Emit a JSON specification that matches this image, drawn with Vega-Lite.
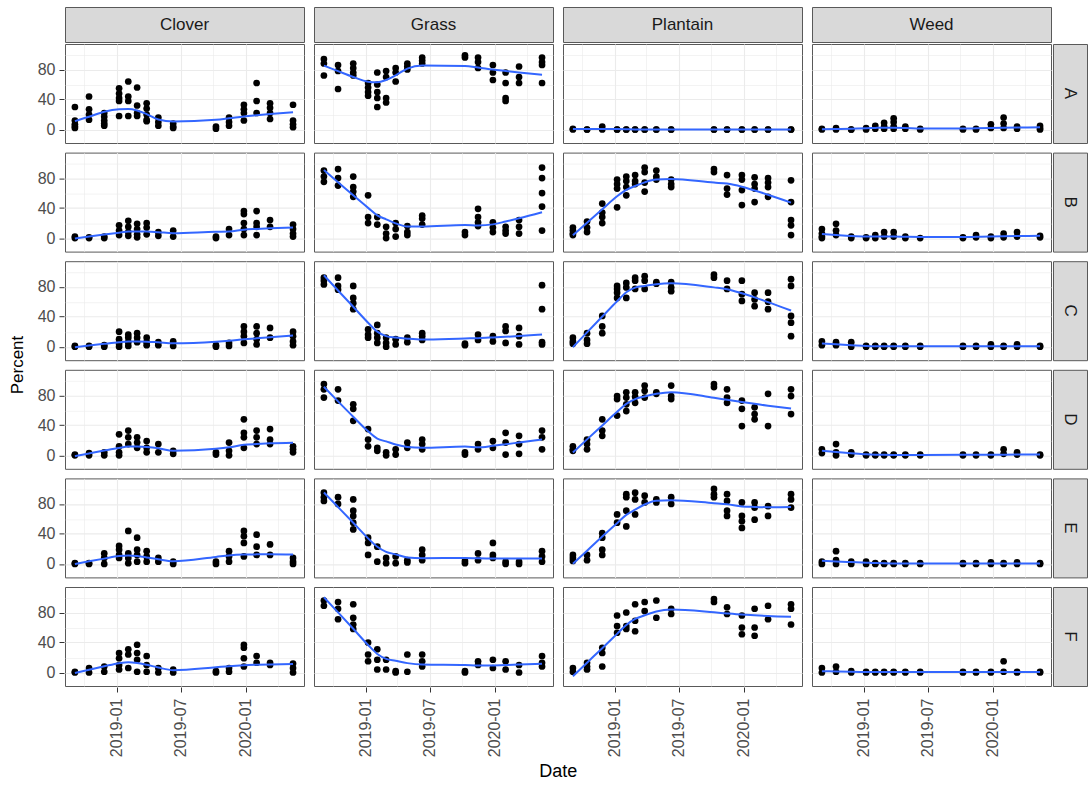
{
"$schema":"https://vega.github.io/schema/vega-lite/v6.json",
"background":"white",
"padding":{"left":8,"top":6,"right":0,"bottom":3},
"config":{"font":"Liberation Sans","view":{"stroke":"#595959"},"header":{"titleFont":"Liberation Sans"}},
"title":{"text":"Date","orient":"bottom","fontSize":18,"fontWeight":"normal","color":"black","anchor":"middle","font":"Liberation Sans","offset":6,"dx":10},
"spacing":0,
"resolve":{"scale":{"x":"independent","y":"independent"}},
"vconcat":[
{
"data":{"values":[{"sp":"Clover","k":"a"},{"sp":"Grass","k":"a"},{"sp":"Plantain","k":"a"},{"sp":"Weed","k":"a"}]},
"facet":{
"row":{"field":"k","type":"nominal","title":"P","header":{"labels":false,"titleColor":"transparent","titleFontSize":17,"titleFontWeight":"normal","titlePadding":0,"labelPadding":0}},
"column":{"field":"sp","type":"nominal","title":null,"header":{"labels":false}}
},
"spacing":{"column":8},
"spec":{
"width":239,"height":35,
"view":{"fill":"#d9d9d9","stroke":"#595959"},
"mark":{"type":"text","fontSize":17,"color":"#1a1a1a","font":"Liberation Sans"},
"encoding":{
"text":{"field":"sp"},
"y":{"datum":48,"type":"quantitative","scale":{"domain":[-18,114],"nice":false,"zero":false},"axis":{"values":[40],"title":null,"labelColor":"transparent","tickColor":"transparent","domain":false,"grid":false,"labelFontSize":16,"labelPadding":4,"tickSize":5}}
}
}
},
{
"hconcat":[
{
"data":{"format":{"parse":{"d":"date"}},"values":[
{"sp":"Clover","pl":"A","d":"2018-09-05","v":[30,12,7,4,2]},
{"sp":"Clover","pl":"A","d":"2018-10-15","v":[44,27,20,13]},
{"sp":"Clover","pl":"A","d":"2018-11-27","v":[22,17,12,8,5]},
{"sp":"Clover","pl":"A","d":"2019-01-08","v":[55,48,42,38,18]},
{"sp":"Clover","pl":"A","d":"2019-02-03","v":[64,44,38,18]},
{"sp":"Clover","pl":"A","d":"2019-02-28","v":[56,32,22,18]},
{"sp":"Clover","pl":"A","d":"2019-03-27","v":[35,28,20,13,11]},
{"sp":"Clover","pl":"A","d":"2019-04-29","v":[16,10,5]},
{"sp":"Clover","pl":"A","d":"2019-06-10","v":[8,4,2]},
{"sp":"Clover","pl":"A","d":"2019-10-09","v":[4,1]},
{"sp":"Clover","pl":"A","d":"2019-11-15","v":[16,10,5]},
{"sp":"Clover","pl":"A","d":"2019-12-27","v":[33,27,22,12]},
{"sp":"Clover","pl":"A","d":"2020-02-01","v":[62,38,22]},
{"sp":"Clover","pl":"A","d":"2020-03-10","v":[35,29,22,14]},
{"sp":"Clover","pl":"A","d":"2020-05-14","v":[33,12,7,3]},
{"sp":"Grass","pl":"A","d":"2018-09-05","v":[94,88,72]},
{"sp":"Grass","pl":"A","d":"2018-10-15","v":[86,78,54]},
{"sp":"Grass","pl":"A","d":"2018-11-27","v":[88,82,76,72]},
{"sp":"Grass","pl":"A","d":"2019-01-08","v":[62,56,50,45]},
{"sp":"Grass","pl":"A","d":"2019-02-03","v":[76,60,50,42,30]},
{"sp":"Grass","pl":"A","d":"2019-02-28","v":[78,70,42,36]},
{"sp":"Grass","pl":"A","d":"2019-03-27","v":[82,76,64]},
{"sp":"Grass","pl":"A","d":"2019-04-29","v":[88,84,80]},
{"sp":"Grass","pl":"A","d":"2019-06-10","v":[96,92,88]},
{"sp":"Grass","pl":"A","d":"2019-10-09","v":[99,96]},
{"sp":"Grass","pl":"A","d":"2019-11-15","v":[96,90,82]},
{"sp":"Grass","pl":"A","d":"2019-12-27","v":[86,76,66]},
{"sp":"Grass","pl":"A","d":"2020-02-01","v":[76,62,42,38]},
{"sp":"Grass","pl":"A","d":"2020-03-10","v":[84,70,62]},
{"sp":"Grass","pl":"A","d":"2020-05-14","v":[96,90,86,62]},
{"sp":"Plantain","pl":"A","d":"2018-09-05","v":[1,0]},
{"sp":"Plantain","pl":"A","d":"2018-10-15","v":[0,0]},
{"sp":"Plantain","pl":"A","d":"2018-11-27","v":[4,0]},
{"sp":"Plantain","pl":"A","d":"2019-01-08","v":[0,0]},
{"sp":"Plantain","pl":"A","d":"2019-02-03","v":[0,0]},
{"sp":"Plantain","pl":"A","d":"2019-02-28","v":[0,0]},
{"sp":"Plantain","pl":"A","d":"2019-03-27","v":[0,0]},
{"sp":"Plantain","pl":"A","d":"2019-04-29","v":[0,0]},
{"sp":"Plantain","pl":"A","d":"2019-06-10","v":[0,0]},
{"sp":"Plantain","pl":"A","d":"2019-10-09","v":[0,0]},
{"sp":"Plantain","pl":"A","d":"2019-11-15","v":[0,0]},
{"sp":"Plantain","pl":"A","d":"2019-12-27","v":[0,0]},
{"sp":"Plantain","pl":"A","d":"2020-02-01","v":[0,0]},
{"sp":"Plantain","pl":"A","d":"2020-03-10","v":[0,0]},
{"sp":"Plantain","pl":"A","d":"2020-05-14","v":[0,0]},
{"sp":"Weed","pl":"A","d":"2018-09-05","v":[1,0]},
{"sp":"Weed","pl":"A","d":"2018-10-15","v":[2,0]},
{"sp":"Weed","pl":"A","d":"2018-11-27","v":[0,0]},
{"sp":"Weed","pl":"A","d":"2019-01-08","v":[2,0]},
{"sp":"Weed","pl":"A","d":"2019-02-03","v":[5,1]},
{"sp":"Weed","pl":"A","d":"2019-02-28","v":[9,4,1]},
{"sp":"Weed","pl":"A","d":"2019-03-27","v":[15,10,4,1]},
{"sp":"Weed","pl":"A","d":"2019-04-29","v":[4,1]},
{"sp":"Weed","pl":"A","d":"2019-06-10","v":[1,0]},
{"sp":"Weed","pl":"A","d":"2019-10-09","v":[1,0]},
{"sp":"Weed","pl":"A","d":"2019-11-15","v":[1,0]},
{"sp":"Weed","pl":"A","d":"2019-12-27","v":[7,2]},
{"sp":"Weed","pl":"A","d":"2020-02-01","v":[16,8,2]},
{"sp":"Weed","pl":"A","d":"2020-03-10","v":[4,1]},
{"sp":"Weed","pl":"A","d":"2020-05-14","v":[5,2,0]},
{"sp":"Clover","pl":"B","d":"2018-09-05","v":[2,0]},
{"sp":"Clover","pl":"B","d":"2018-10-15","v":[1,0]},
{"sp":"Clover","pl":"B","d":"2018-11-27","v":[2,0]},
{"sp":"Clover","pl":"B","d":"2019-01-08","v":[17,10,4]},
{"sp":"Clover","pl":"B","d":"2019-02-03","v":[23,15,8,3]},
{"sp":"Clover","pl":"B","d":"2019-02-28","v":[19,12,5,1]},
{"sp":"Clover","pl":"B","d":"2019-03-27","v":[20,14,5]},
{"sp":"Clover","pl":"B","d":"2019-04-29","v":[8,3]},
{"sp":"Clover","pl":"B","d":"2019-06-10","v":[10,2]},
{"sp":"Clover","pl":"B","d":"2019-10-09","v":[2,0]},
{"sp":"Clover","pl":"B","d":"2019-11-15","v":[12,4]},
{"sp":"Clover","pl":"B","d":"2019-12-27","v":[36,32,20,12,4]},
{"sp":"Clover","pl":"B","d":"2020-02-01","v":[36,20,15,4]},
{"sp":"Clover","pl":"B","d":"2020-03-10","v":[24,15]},
{"sp":"Clover","pl":"B","d":"2020-05-14","v":[18,12,6,2]},
{"sp":"Grass","pl":"B","d":"2018-09-05","v":[90,82,75]},
{"sp":"Grass","pl":"B","d":"2018-10-15","v":[92,80,70]},
{"sp":"Grass","pl":"B","d":"2018-11-27","v":[82,68,62,55]},
{"sp":"Grass","pl":"B","d":"2019-01-08","v":[57,28,20]},
{"sp":"Grass","pl":"B","d":"2019-02-03","v":[28,18]},
{"sp":"Grass","pl":"B","d":"2019-02-28","v":[15,6,0]},
{"sp":"Grass","pl":"B","d":"2019-03-27","v":[20,12,2]},
{"sp":"Grass","pl":"B","d":"2019-04-29","v":[16,8,4]},
{"sp":"Grass","pl":"B","d":"2019-06-10","v":[30,26,18]},
{"sp":"Grass","pl":"B","d":"2019-10-09","v":[8,4]},
{"sp":"Grass","pl":"B","d":"2019-11-15","v":[39,28,21,16]},
{"sp":"Grass","pl":"B","d":"2019-12-27","v":[21,14,8]},
{"sp":"Grass","pl":"B","d":"2020-02-01","v":[15,10,6]},
{"sp":"Grass","pl":"B","d":"2020-03-10","v":[24,15,6]},
{"sp":"Grass","pl":"B","d":"2020-05-14","v":[94,80,60,42,10]},
{"sp":"Plantain","pl":"B","d":"2018-09-05","v":[14,10,6,4]},
{"sp":"Plantain","pl":"B","d":"2018-10-15","v":[22,14,8]},
{"sp":"Plantain","pl":"B","d":"2018-11-27","v":[46,34,28,20]},
{"sp":"Plantain","pl":"B","d":"2019-01-08","v":[78,72,66,41]},
{"sp":"Plantain","pl":"B","d":"2019-02-03","v":[82,76,68,57]},
{"sp":"Plantain","pl":"B","d":"2019-02-28","v":[84,76,72]},
{"sp":"Plantain","pl":"B","d":"2019-03-27","v":[94,88,74,62]},
{"sp":"Plantain","pl":"B","d":"2019-04-29","v":[90,82,78]},
{"sp":"Plantain","pl":"B","d":"2019-06-10","v":[78,72,68]},
{"sp":"Plantain","pl":"B","d":"2019-10-09","v":[92,88]},
{"sp":"Plantain","pl":"B","d":"2019-11-15","v":[84,66,58]},
{"sp":"Plantain","pl":"B","d":"2019-12-27","v":[84,78,64,44]},
{"sp":"Plantain","pl":"B","d":"2020-02-01","v":[81,72,66,48]},
{"sp":"Plantain","pl":"B","d":"2020-03-10","v":[80,74,68,55]},
{"sp":"Plantain","pl":"B","d":"2020-05-14","v":[77,48,24,17,4]},
{"sp":"Weed","pl":"B","d":"2018-09-05","v":[12,6,2,0]},
{"sp":"Weed","pl":"B","d":"2018-10-15","v":[19,10,4]},
{"sp":"Weed","pl":"B","d":"2018-11-27","v":[2,0]},
{"sp":"Weed","pl":"B","d":"2019-01-08","v":[1,0]},
{"sp":"Weed","pl":"B","d":"2019-02-03","v":[4,0]},
{"sp":"Weed","pl":"B","d":"2019-02-28","v":[8,2]},
{"sp":"Weed","pl":"B","d":"2019-03-27","v":[8,2]},
{"sp":"Weed","pl":"B","d":"2019-04-29","v":[2,0]},
{"sp":"Weed","pl":"B","d":"2019-06-10","v":[0]},
{"sp":"Weed","pl":"B","d":"2019-10-09","v":[1,0]},
{"sp":"Weed","pl":"B","d":"2019-11-15","v":[4,1]},
{"sp":"Weed","pl":"B","d":"2019-12-27","v":[2,0]},
{"sp":"Weed","pl":"B","d":"2020-02-01","v":[6,1]},
{"sp":"Weed","pl":"B","d":"2020-03-10","v":[8,2]},
{"sp":"Weed","pl":"B","d":"2020-05-14","v":[3,1]},
{"sp":"Clover","pl":"C","d":"2018-09-05","v":[1,0]},
{"sp":"Clover","pl":"C","d":"2018-10-15","v":[1,0]},
{"sp":"Clover","pl":"C","d":"2018-11-27","v":[2,0]},
{"sp":"Clover","pl":"C","d":"2019-01-08","v":[20,10,4,0]},
{"sp":"Clover","pl":"C","d":"2019-02-03","v":[16,12,6,1]},
{"sp":"Clover","pl":"C","d":"2019-02-28","v":[18,12,6]},
{"sp":"Clover","pl":"C","d":"2019-03-27","v":[12,6,2]},
{"sp":"Clover","pl":"C","d":"2019-04-29","v":[6,2]},
{"sp":"Clover","pl":"C","d":"2019-06-10","v":[7,1]},
{"sp":"Clover","pl":"C","d":"2019-10-09","v":[2,0]},
{"sp":"Clover","pl":"C","d":"2019-11-15","v":[5,1]},
{"sp":"Clover","pl":"C","d":"2019-12-27","v":[27,20,14,5]},
{"sp":"Clover","pl":"C","d":"2020-02-01","v":[27,18,10,3]},
{"sp":"Clover","pl":"C","d":"2020-03-10","v":[25,12]},
{"sp":"Clover","pl":"C","d":"2020-05-14","v":[20,14,7,2]},
{"sp":"Grass","pl":"C","d":"2018-09-05","v":[92,88,83]},
{"sp":"Grass","pl":"C","d":"2018-10-15","v":[92,81,76]},
{"sp":"Grass","pl":"C","d":"2018-11-27","v":[81,65,58,50]},
{"sp":"Grass","pl":"C","d":"2019-01-08","v":[23,16,12]},
{"sp":"Grass","pl":"C","d":"2019-02-03","v":[29,18,12,5]},
{"sp":"Grass","pl":"C","d":"2019-02-28","v":[12,5,0]},
{"sp":"Grass","pl":"C","d":"2019-03-27","v":[10,3]},
{"sp":"Grass","pl":"C","d":"2019-04-29","v":[12,6]},
{"sp":"Grass","pl":"C","d":"2019-06-10","v":[18,14,9]},
{"sp":"Grass","pl":"C","d":"2019-10-09","v":[4,2]},
{"sp":"Grass","pl":"C","d":"2019-11-15","v":[16,9]},
{"sp":"Grass","pl":"C","d":"2019-12-27","v":[14,7]},
{"sp":"Grass","pl":"C","d":"2020-02-01","v":[27,21,5]},
{"sp":"Grass","pl":"C","d":"2020-03-10","v":[25,14,3]},
{"sp":"Grass","pl":"C","d":"2020-05-14","v":[82,50,6,3]},
{"sp":"Plantain","pl":"C","d":"2018-09-05","v":[12,7,4]},
{"sp":"Plantain","pl":"C","d":"2018-10-15","v":[18,9,4]},
{"sp":"Plantain","pl":"C","d":"2018-11-27","v":[41,27,18]},
{"sp":"Plantain","pl":"C","d":"2019-01-08","v":[81,77,72,65]},
{"sp":"Plantain","pl":"C","d":"2019-02-03","v":[85,79,65]},
{"sp":"Plantain","pl":"C","d":"2019-02-28","v":[92,88,77]},
{"sp":"Plantain","pl":"C","d":"2019-03-27","v":[94,88,77]},
{"sp":"Plantain","pl":"C","d":"2019-04-29","v":[86,84]},
{"sp":"Plantain","pl":"C","d":"2019-06-10","v":[86,79,74]},
{"sp":"Plantain","pl":"C","d":"2019-10-09","v":[96,92]},
{"sp":"Plantain","pl":"C","d":"2019-11-15","v":[88,77]},
{"sp":"Plantain","pl":"C","d":"2019-12-27","v":[88,70,61]},
{"sp":"Plantain","pl":"C","d":"2020-02-01","v":[72,63,54]},
{"sp":"Plantain","pl":"C","d":"2020-03-10","v":[72,60,50]},
{"sp":"Plantain","pl":"C","d":"2020-05-14","v":[90,81,41,32,14]},
{"sp":"Weed","pl":"C","d":"2018-09-05","v":[7,2]},
{"sp":"Weed","pl":"C","d":"2018-10-15","v":[6,2]},
{"sp":"Weed","pl":"C","d":"2018-11-27","v":[6,0]},
{"sp":"Weed","pl":"C","d":"2019-01-08","v":[1,0]},
{"sp":"Weed","pl":"C","d":"2019-02-03","v":[1,0]},
{"sp":"Weed","pl":"C","d":"2019-02-28","v":[1,0]},
{"sp":"Weed","pl":"C","d":"2019-03-27","v":[1,0]},
{"sp":"Weed","pl":"C","d":"2019-04-29","v":[1,0]},
{"sp":"Weed","pl":"C","d":"2019-06-10","v":[1,0]},
{"sp":"Weed","pl":"C","d":"2019-10-09","v":[1,0]},
{"sp":"Weed","pl":"C","d":"2019-11-15","v":[1,0]},
{"sp":"Weed","pl":"C","d":"2019-12-27","v":[3,0]},
{"sp":"Weed","pl":"C","d":"2020-02-01","v":[1,0]},
{"sp":"Weed","pl":"C","d":"2020-03-10","v":[3,0]},
{"sp":"Weed","pl":"C","d":"2020-05-14","v":[1,0]},
{"sp":"Clover","pl":"D","d":"2018-09-05","v":[1,0]},
{"sp":"Clover","pl":"D","d":"2018-10-15","v":[3,0]},
{"sp":"Clover","pl":"D","d":"2018-11-27","v":[4,0]},
{"sp":"Clover","pl":"D","d":"2019-01-08","v":[28,12,4,0]},
{"sp":"Clover","pl":"D","d":"2019-02-03","v":[33,24,15]},
{"sp":"Clover","pl":"D","d":"2019-02-28","v":[24,17,10]},
{"sp":"Clover","pl":"D","d":"2019-03-27","v":[19,10,4]},
{"sp":"Clover","pl":"D","d":"2019-04-29","v":[15,4]},
{"sp":"Clover","pl":"D","d":"2019-06-10","v":[6,2]},
{"sp":"Clover","pl":"D","d":"2019-10-09","v":[4,1]},
{"sp":"Clover","pl":"D","d":"2019-11-15","v":[17,6,0]},
{"sp":"Clover","pl":"D","d":"2019-12-27","v":[48,30,24,10]},
{"sp":"Clover","pl":"D","d":"2020-02-01","v":[33,24,15]},
{"sp":"Clover","pl":"D","d":"2020-03-10","v":[35,21,15]},
{"sp":"Clover","pl":"D","d":"2020-05-14","v":[12,8,4]},
{"sp":"Grass","pl":"D","d":"2018-09-05","v":[95,88,77]},
{"sp":"Grass","pl":"D","d":"2018-10-15","v":[88,73]},
{"sp":"Grass","pl":"D","d":"2018-11-27","v":[68,62,46]},
{"sp":"Grass","pl":"D","d":"2019-01-08","v":[35,21,12]},
{"sp":"Grass","pl":"D","d":"2019-02-03","v":[10,6]},
{"sp":"Grass","pl":"D","d":"2019-02-28","v":[4,0]},
{"sp":"Grass","pl":"D","d":"2019-03-27","v":[8,1]},
{"sp":"Grass","pl":"D","d":"2019-04-29","v":[17,10]},
{"sp":"Grass","pl":"D","d":"2019-06-10","v":[21,15,8]},
{"sp":"Grass","pl":"D","d":"2019-10-09","v":[4,1]},
{"sp":"Grass","pl":"D","d":"2019-11-15","v":[15,8]},
{"sp":"Grass","pl":"D","d":"2019-12-27","v":[19,10]},
{"sp":"Grass","pl":"D","d":"2020-02-01","v":[30,17,1]},
{"sp":"Grass","pl":"D","d":"2020-03-10","v":[26,15,2]},
{"sp":"Grass","pl":"D","d":"2020-05-14","v":[33,24,8]},
{"sp":"Plantain","pl":"D","d":"2018-09-05","v":[12,8,6]},
{"sp":"Plantain","pl":"D","d":"2018-10-15","v":[21,15,8]},
{"sp":"Plantain","pl":"D","d":"2018-11-27","v":[48,33,26]},
{"sp":"Plantain","pl":"D","d":"2019-01-08","v":[79,75,53]},
{"sp":"Plantain","pl":"D","d":"2019-02-03","v":[84,77,68,59]},
{"sp":"Plantain","pl":"D","d":"2019-02-28","v":[84,78,70]},
{"sp":"Plantain","pl":"D","d":"2019-03-27","v":[93,86,77]},
{"sp":"Plantain","pl":"D","d":"2019-04-29","v":[84,82]},
{"sp":"Plantain","pl":"D","d":"2019-06-10","v":[93,79,75]},
{"sp":"Plantain","pl":"D","d":"2019-10-09","v":[95,91]},
{"sp":"Plantain","pl":"D","d":"2019-11-15","v":[88,77,70]},
{"sp":"Plantain","pl":"D","d":"2019-12-27","v":[73,62,39]},
{"sp":"Plantain","pl":"D","d":"2020-02-01","v":[64,55,48]},
{"sp":"Plantain","pl":"D","d":"2020-03-10","v":[82,39]},
{"sp":"Plantain","pl":"D","d":"2020-05-14","v":[88,79,55]},
{"sp":"Weed","pl":"D","d":"2018-09-05","v":[8,3]},
{"sp":"Weed","pl":"D","d":"2018-10-15","v":[15,4,0]},
{"sp":"Weed","pl":"D","d":"2018-11-27","v":[4,1]},
{"sp":"Weed","pl":"D","d":"2019-01-08","v":[1,0]},
{"sp":"Weed","pl":"D","d":"2019-02-03","v":[1,0]},
{"sp":"Weed","pl":"D","d":"2019-02-28","v":[1,0]},
{"sp":"Weed","pl":"D","d":"2019-03-27","v":[1,0]},
{"sp":"Weed","pl":"D","d":"2019-04-29","v":[1,0]},
{"sp":"Weed","pl":"D","d":"2019-06-10","v":[1,0]},
{"sp":"Weed","pl":"D","d":"2019-10-09","v":[1,0]},
{"sp":"Weed","pl":"D","d":"2019-11-15","v":[1,0]},
{"sp":"Weed","pl":"D","d":"2019-12-27","v":[1,0]},
{"sp":"Weed","pl":"D","d":"2020-02-01","v":[8,2]},
{"sp":"Weed","pl":"D","d":"2020-03-10","v":[4,1]},
{"sp":"Weed","pl":"D","d":"2020-05-14","v":[1,0]},
{"sp":"Clover","pl":"E","d":"2018-09-05","v":[1,0]},
{"sp":"Clover","pl":"E","d":"2018-10-15","v":[1,0]},
{"sp":"Clover","pl":"E","d":"2018-11-27","v":[14,8,0]},
{"sp":"Clover","pl":"E","d":"2019-01-08","v":[24,19,12,8]},
{"sp":"Clover","pl":"E","d":"2019-02-03","v":[44,14,8,1]},
{"sp":"Clover","pl":"E","d":"2019-02-28","v":[35,19,12,3]},
{"sp":"Clover","pl":"E","d":"2019-03-27","v":[17,10,3]},
{"sp":"Clover","pl":"E","d":"2019-04-29","v":[8,3]},
{"sp":"Clover","pl":"E","d":"2019-06-10","v":[3,0]},
{"sp":"Clover","pl":"E","d":"2019-10-09","v":[3,0]},
{"sp":"Clover","pl":"E","d":"2019-11-15","v":[17,10,3]},
{"sp":"Clover","pl":"E","d":"2019-12-27","v":[44,37,28,10]},
{"sp":"Clover","pl":"E","d":"2020-02-01","v":[39,23,12]},
{"sp":"Clover","pl":"E","d":"2020-03-10","v":[26,12]},
{"sp":"Clover","pl":"E","d":"2020-05-14","v":[8,3,0]},
{"sp":"Grass","pl":"E","d":"2018-09-05","v":[95,89,84]},
{"sp":"Grass","pl":"E","d":"2018-10-15","v":[89,80]},
{"sp":"Grass","pl":"E","d":"2018-11-27","v":[86,71,64,55,46]},
{"sp":"Grass","pl":"E","d":"2019-01-08","v":[35,28,12]},
{"sp":"Grass","pl":"E","d":"2019-02-03","v":[23,3]},
{"sp":"Grass","pl":"E","d":"2019-02-28","v":[8,1]},
{"sp":"Grass","pl":"E","d":"2019-03-27","v":[10,1]},
{"sp":"Grass","pl":"E","d":"2019-04-29","v":[5,2]},
{"sp":"Grass","pl":"E","d":"2019-06-10","v":[19,12,5]},
{"sp":"Grass","pl":"E","d":"2019-10-09","v":[4,1]},
{"sp":"Grass","pl":"E","d":"2019-11-15","v":[14,5]},
{"sp":"Grass","pl":"E","d":"2019-12-27","v":[28,12,8]},
{"sp":"Grass","pl":"E","d":"2020-02-01","v":[3,0]},
{"sp":"Grass","pl":"E","d":"2020-03-10","v":[3,0]},
{"sp":"Grass","pl":"E","d":"2020-05-14","v":[17,10,3]},
{"sp":"Plantain","pl":"E","d":"2018-09-05","v":[12,8,4]},
{"sp":"Plantain","pl":"E","d":"2018-10-15","v":[12,5]},
{"sp":"Plantain","pl":"E","d":"2018-11-27","v":[41,35,19,12]},
{"sp":"Plantain","pl":"E","d":"2019-01-08","v":[66,55]},
{"sp":"Plantain","pl":"E","d":"2019-02-03","v":[93,89,71,50]},
{"sp":"Plantain","pl":"E","d":"2019-02-28","v":[95,86,66]},
{"sp":"Plantain","pl":"E","d":"2019-03-27","v":[91,82]},
{"sp":"Plantain","pl":"E","d":"2019-04-29","v":[86,82]},
{"sp":"Plantain","pl":"E","d":"2019-06-10","v":[89,80]},
{"sp":"Plantain","pl":"E","d":"2019-10-09","v":[100,93,89]},
{"sp":"Plantain","pl":"E","d":"2019-11-15","v":[93,84,71,64]},
{"sp":"Plantain","pl":"E","d":"2019-12-27","v":[82,64,57,48]},
{"sp":"Plantain","pl":"E","d":"2020-02-01","v":[82,75,59]},
{"sp":"Plantain","pl":"E","d":"2020-03-10","v":[77,64]},
{"sp":"Plantain","pl":"E","d":"2020-05-14","v":[93,86,75]},
{"sp":"Weed","pl":"E","d":"2018-09-05","v":[3,0]},
{"sp":"Weed","pl":"E","d":"2018-10-15","v":[17,5,0]},
{"sp":"Weed","pl":"E","d":"2018-11-27","v":[3,0]},
{"sp":"Weed","pl":"E","d":"2019-01-08","v":[3,0]},
{"sp":"Weed","pl":"E","d":"2019-02-03","v":[1,0]},
{"sp":"Weed","pl":"E","d":"2019-02-28","v":[1,0]},
{"sp":"Weed","pl":"E","d":"2019-03-27","v":[1,0]},
{"sp":"Weed","pl":"E","d":"2019-04-29","v":[1,0]},
{"sp":"Weed","pl":"E","d":"2019-06-10","v":[1,0]},
{"sp":"Weed","pl":"E","d":"2019-10-09","v":[1,0]},
{"sp":"Weed","pl":"E","d":"2019-11-15","v":[1,0]},
{"sp":"Weed","pl":"E","d":"2019-12-27","v":[2,0]},
{"sp":"Weed","pl":"E","d":"2020-02-01","v":[1,0]},
{"sp":"Weed","pl":"E","d":"2020-03-10","v":[2,0]},
{"sp":"Weed","pl":"E","d":"2020-05-14","v":[1,0]},
{"sp":"Clover","pl":"F","d":"2018-09-05","v":[1,0]},
{"sp":"Clover","pl":"F","d":"2018-10-15","v":[6,0]},
{"sp":"Clover","pl":"F","d":"2018-11-27","v":[8,1]},
{"sp":"Clover","pl":"F","d":"2019-01-08","v":[26,19,10,4]},
{"sp":"Clover","pl":"F","d":"2019-02-03","v":[31,24,6]},
{"sp":"Clover","pl":"F","d":"2019-02-28","v":[37,26,17,1]},
{"sp":"Clover","pl":"F","d":"2019-03-27","v":[22,10,1]},
{"sp":"Clover","pl":"F","d":"2019-04-29","v":[6,0]},
{"sp":"Clover","pl":"F","d":"2019-06-10","v":[4,0]},
{"sp":"Clover","pl":"F","d":"2019-10-09","v":[2,0]},
{"sp":"Clover","pl":"F","d":"2019-11-15","v":[6,1]},
{"sp":"Clover","pl":"F","d":"2019-12-27","v":[37,33,19,8]},
{"sp":"Clover","pl":"F","d":"2020-02-01","v":[22,13]},
{"sp":"Clover","pl":"F","d":"2020-03-10","v":[13,10]},
{"sp":"Clover","pl":"F","d":"2020-05-14","v":[12,6,0]},
{"sp":"Grass","pl":"F","d":"2018-09-05","v":[96,89]},
{"sp":"Grass","pl":"F","d":"2018-10-15","v":[94,85,71]},
{"sp":"Grass","pl":"F","d":"2018-11-27","v":[91,73,64,58]},
{"sp":"Grass","pl":"F","d":"2019-01-08","v":[40,24,15]},
{"sp":"Grass","pl":"F","d":"2019-02-03","v":[31,17,4]},
{"sp":"Grass","pl":"F","d":"2019-02-28","v":[17,4]},
{"sp":"Grass","pl":"F","d":"2019-03-27","v":[2,0]},
{"sp":"Grass","pl":"F","d":"2019-04-29","v":[24,1]},
{"sp":"Grass","pl":"F","d":"2019-06-10","v":[24,15,8]},
{"sp":"Grass","pl":"F","d":"2019-10-09","v":[2,0]},
{"sp":"Grass","pl":"F","d":"2019-11-15","v":[15,10]},
{"sp":"Grass","pl":"F","d":"2019-12-27","v":[17,6]},
{"sp":"Grass","pl":"F","d":"2020-02-01","v":[15,4]},
{"sp":"Grass","pl":"F","d":"2020-03-10","v":[10,0]},
{"sp":"Grass","pl":"F","d":"2020-05-14","v":[22,13,8]},
{"sp":"Plantain","pl":"F","d":"2018-09-05","v":[6,1]},
{"sp":"Plantain","pl":"F","d":"2018-10-15","v":[13,8,4]},
{"sp":"Plantain","pl":"F","d":"2018-11-27","v":[33,26,8]},
{"sp":"Plantain","pl":"F","d":"2019-01-08","v":[76,62,53]},
{"sp":"Plantain","pl":"F","d":"2019-02-03","v":[80,62,58]},
{"sp":"Plantain","pl":"F","d":"2019-02-28","v":[91,69,55]},
{"sp":"Plantain","pl":"F","d":"2019-03-27","v":[94,82]},
{"sp":"Plantain","pl":"F","d":"2019-04-29","v":[96,73]},
{"sp":"Plantain","pl":"F","d":"2019-06-10","v":[85,78]},
{"sp":"Plantain","pl":"F","d":"2019-10-09","v":[98,94]},
{"sp":"Plantain","pl":"F","d":"2019-11-15","v":[87,78]},
{"sp":"Plantain","pl":"F","d":"2019-12-27","v":[76,60,51]},
{"sp":"Plantain","pl":"F","d":"2020-02-01","v":[85,60,49]},
{"sp":"Plantain","pl":"F","d":"2020-03-10","v":[89,71]},
{"sp":"Plantain","pl":"F","d":"2020-05-14","v":[91,85,64]},
{"sp":"Weed","pl":"F","d":"2018-09-05","v":[6,0]},
{"sp":"Weed","pl":"F","d":"2018-10-15","v":[8,1]},
{"sp":"Weed","pl":"F","d":"2018-11-27","v":[2,0]},
{"sp":"Weed","pl":"F","d":"2019-01-08","v":[1,0]},
{"sp":"Weed","pl":"F","d":"2019-02-03","v":[1,0]},
{"sp":"Weed","pl":"F","d":"2019-02-28","v":[1,0]},
{"sp":"Weed","pl":"F","d":"2019-03-27","v":[1,0]},
{"sp":"Weed","pl":"F","d":"2019-04-29","v":[1,0]},
{"sp":"Weed","pl":"F","d":"2019-06-10","v":[1,0]},
{"sp":"Weed","pl":"F","d":"2019-10-09","v":[1,0]},
{"sp":"Weed","pl":"F","d":"2019-11-15","v":[1,0]},
{"sp":"Weed","pl":"F","d":"2019-12-27","v":[1,0]},
{"sp":"Weed","pl":"F","d":"2020-02-01","v":[15,1]},
{"sp":"Weed","pl":"F","d":"2020-03-10","v":[1,0]},
{"sp":"Weed","pl":"F","d":"2020-05-14","v":[1,0]}
]},
"transform":[{"flatten":["v"]}],
"facet":{
"row":{"field":"pl","type":"nominal","title":"Percent","header":{"labels":false,"titleColor":"black","titleFontSize":17,"titleFontWeight":"normal","titlePadding":0,"labelPadding":0}},
"column":{"field":"sp","type":"nominal","title":null,"header":{"labels":false}}
},
"spacing":{"row":7.6,"column":8},
"spec":{
"width":239,"height":99,
"view":{"fill":"white","stroke":"#595959"},
"encoding":{
"x":{"field":"d","type":"temporal","scale":{"domain":[{"year":2018,"month":8,"date":8},{"year":2020,"month":6,"date":14}]},
"axis":{"title":null,"values":[{"year":2018,"month":10,"date":1},{"year":2019,"month":1,"date":1},{"year":2019,"month":4,"date":1},{"year":2019,"month":7,"date":1},{"year":2019,"month":10,"date":1},{"year":2020,"month":1,"date":1},{"year":2020,"month":4,"date":1}],
"labelExpr":"month(datum.value) % 6 == 0 ? timeFormat(datum.value, '%Y-%m') : ''",
"labelAngle":-90,"labelAlign":"right","labelBaseline":"middle","labelFontSize":16,"labelColor":"#4d4d4d","labelPadding":6,"labelOverlap":false,"labelFlush":false,
"tickSize":5,"tickColor":{"condition":{"test":"month(datum.value) % 6 == 0","value":"#333333"},"value":"transparent"},
"domain":false,"gridColor":"#ebebeb","gridWidth":{"condition":{"test":"month(datum.value) % 6 == 0","value":1.1},"value":0.6}}},
"y":{"field":"v","type":"quantitative","scale":{"domain":[-18,114],"nice":false,"zero":false},
"axis":{"title":null,"values":[0,20,40,60,80,100],"labelExpr":"datum.value % 40 == 0 ? datum.label : ''","labelFontSize":16,"labelColor":"#4d4d4d","labelPadding":4,"labelOverlap":false,
"tickSize":5,"tickColor":{"condition":{"test":"datum.value % 40 == 0","value":"#333333"},"value":"transparent"},
"domain":false,"gridColor":"#ebebeb","gridWidth":{"condition":{"test":"datum.value % 40 == 0","value":1.1},"value":0.6}}}
},
"layer":[
{"mark":{"type":"point","filled":true,"size":45,"color":"black","opacity":1}},
{"transform":[{"loess":"v","on":"d","groupby":["sp","pl"],"bandwidth":0.55}],
"mark":{"type":"line","color":"#3366FF","strokeWidth":2,"interpolate":"monotone"}}
]
}
},
{
"data":{"values":[{"pl":"A"},{"pl":"B"},{"pl":"C"},{"pl":"D"},{"pl":"E"},{"pl":"F"}]},
"facet":{"row":{"field":"pl","type":"nominal","title":null,"header":{"labels":false}}},
"spacing":{"row":7.6},
"spec":{
"width":34,"height":99,
"view":{"fill":"#d9d9d9","stroke":"#595959"},
"mark":{"type":"text","angle":90,"fontSize":17,"color":"#1a1a1a","font":"Liberation Sans"},
"encoding":{"text":{"field":"pl"}}
}
}
],
"spacing":0,
"resolve":{"scale":{"x":"independent","y":"independent"}}
}
]
}
